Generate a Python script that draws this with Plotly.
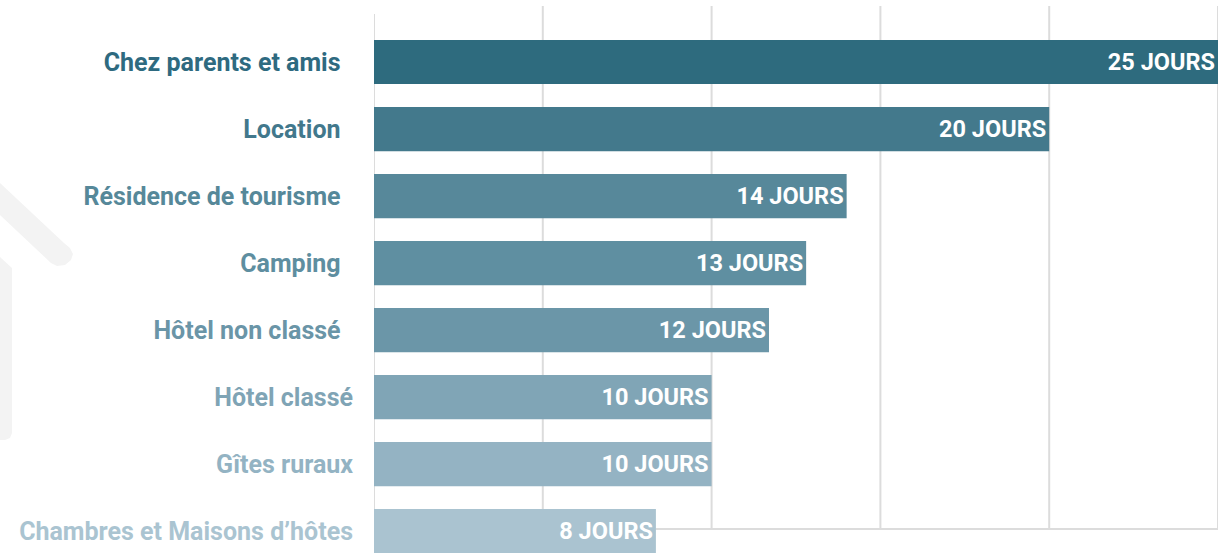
import plotly.graph_objects as go

# Data (average stay length, in days)
categories = [
    "Chez parents et amis",
    "Location",
    "Résidence de tourisme",
    "Camping",
    "Hôtel non classé",
    "Hôtel classé",
    "Gîtes ruraux",
    "Chambres et Maisons d’hôtes",
]
days = [25, 20, 14, 12.8, 11.7, 10, 10, 8.35]
bar_colors = ["#2e6b7e", "#43798c", "#57889a", "#5f8fa1", "#6b96a8",
              "#80a5b6", "#94b3c3", "#aac3d0"]
label_colors = ["#2e6a80", "#42788c", "#568899", "#5e8ea0", "#6a95a7",
                "#7fa4b5", "#93b3c3", "#aac4d1"]
pad_right = [2, 2, 2, 2, 2, 0, 0, 0]  # trailing spaces seen in source labels

W, H = 1218, 553
ML, MT = 374, 6
PW, PH = W - ML, H - MT


def px(x, y):
    """pixel -> paper coords"""
    return (x - ML) / PW, (H - y) / PH


def path(points):
    pts = [px(x, y) for x, y in points]
    return "M " + " L ".join(f"{a:.5f},{b:.5f}" for a, b in pts) + " Z"


ticktext = [f'<span style="color:{c}">{t}{chr(160) * n}</span>'
            for t, c, n in zip(categories, label_colors, pad_right)]

fig = go.Figure(go.Bar(
    y=categories,
    x=days,
    orientation='h',
    marker=dict(color=bar_colors, line=dict(width=0)),
    text=[f"{round(d)} JOURS" for d in days],
    textposition='inside',
    insidetextanchor='end',
    textfont=dict(family='Roboto', size=23.5, color='white', weight='bold'),
    cliponaxis=False,
    hoverinfo='skip',
))

shapes = []
# light grey house drawing in the left background
shapes.append(dict(type='path', xref='paper', yref='paper', layer='below',
                   line=dict(width=0), fillcolor='#f3f3f3',
                   path=path([(0, 183), (64, 243), (70, 248), (73, 254), (71, 260),
                              (65, 265), (57, 266), (51, 263), (0, 215)])))
shapes.append(dict(type='path', xref='paper', yref='paper', layer='below',
                   line=dict(width=0), fillcolor='#f3f3f3',
                   path=path([(0, 257), (12, 268), (12, 433), (10, 438), (5, 440),
                              (0, 440)])))

# vertical gridlines, stopping at the baseline like the source
y_base = px(0, 529)[1]
for v in [0, 5, 10, 15, 20, 25]:
    top = px(0, 14)[1] if v == 0 else 1
    shapes.append(dict(type='line', xref='x', yref='paper', layer='below',
                       x0=v, x1=v, y0=y_base, y1=top,
                       line=dict(color='#dcdcdc', width=2)))
shapes.append(dict(type='line', xref='x', yref='paper', layer='below',
                   x0=0, x1=25, y0=y_base, y1=y_base,
                   line=dict(color='#dcdcdc', width=2)))

fig.update_layout(
    width=W, height=H,
    margin=dict(l=ML, r=0, t=MT, b=0),
    plot_bgcolor='white',
    paper_bgcolor='white',
    bargap=0.34,
    showlegend=False,
    shapes=shapes,
    xaxis=dict(range=[0, 25], showgrid=False, zeroline=False,
               showticklabels=False, ticks=''),
    yaxis=dict(type='category', range=[7.328, -0.836],
               tickmode='array', tickvals=categories, ticktext=ticktext,
               showgrid=False, zeroline=False, ticks='',
               ticklabelstandoff=20,
               tickfont=dict(family='Roboto', size=25, weight='bold')),
)

fig.write_html("out.html", config={'displayModeBar': False},
               post_script="document.body.style.margin='0';")
